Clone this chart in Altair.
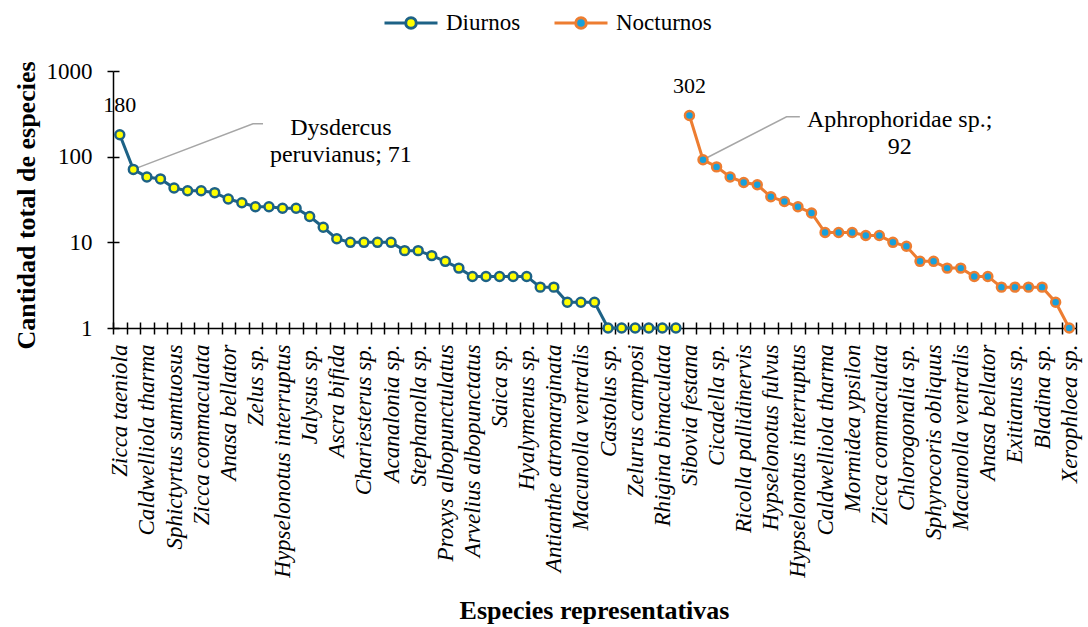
import json
import altair as alt
import pandas as pd

# ---- data -----------------------------------------------------------------
# Species shown on the category axis (every second category carries a name)
especies = [
    "Zicca taeniola", "Caldwelliola tharma", "Sphictyrtus sumtuosus",
    "Zicca commaculata", "Anasa bellator", "Zelus sp.",
    "Hypselonotus interruptus", "Jalysus sp.", "Ascra bifida",
    "Chariesterus sp.", "Acanalonia sp.", "Stephanolla sp.",
    "Proxys albopunctulatus", "Arvelius albopunctatus", "Saica sp.",
    "Hyalymenus sp.", "Antianthe atromarginata", "Macunolla ventralis",
    "Castolus sp.", "Zelurus camposi", "Rhigina bimaculata",
    "Sibovia festana", "Cicadella sp.", "Ricolla pallidinervis",
    "Hypselonotus fulvus", "Hypselonotus interruptus", "Caldwelliola tharma",
    "Mormidea ypsilon", "Zicca commaculata", "Chlorogonalia sp.",
    "Sphyrocoris obliquus", "Macunolla ventralis", "Anasa bellator",
    "Exitianus sp.", "Bladina sp.", "Xerophloea sp.",
]

diurnos = [180, 71, 58, 55, 43, 40, 40, 38, 32, 29,
           26, 26, 25, 25, 20, 15, 11, 10, 10, 10,
           10, 8, 8, 7, 6, 5, 4, 4, 4, 4,
           4, 3, 3, 2, 2, 2, 1, 1, 1, 1,
           1, 1]

nocturnos = [302, 92, 76, 58, 50, 47, 34, 30, 26, 22,
             13, 13, 13, 12, 12, 10, 9, 6, 6, 5,
             5, 4, 4, 3, 3, 3, 3, 2, 1]

series = ["Diurnos", "Nocturnos"]
line_colors = ["#1d6286", "#ed7d31"]
marker_fills = ["#ffff00", "#16a0dc"]

# Callout annotations: anchor point index, elbow and end of the leader, text block
callout_names = ["Dysdercus", "Aphrophoridae"]
callout_point = [1, 43]
callout_elbow_x = [9.82, 49.16]
callout_end_x = [10.56, 50.14]
callout_elbow_y = [242, 292]
callout_text = [["Dysdercus", "peruvianus; 71"], ["Aphrophoridae sp.;", "92"]]
callout_text_x = [16.3, 57.5]
callout_text_y = [217, 270]

# ---- tables ---------------------------------------------------------------
rows = []
for i, v in enumerate(diurnos):
    rows.append({"idx": i, "valor": v, "serie": "Diurnos"})
for i, v in enumerate(nocturnos):
    rows.append({"idx": len(diurnos) + i, "valor": v, "serie": "Nocturnos"})
df = pd.DataFrame(rows)

n = len(diurnos) + len(nocturnos)
firsts = df.groupby("serie", as_index=False).first()

leader_rows = []
for k, name in enumerate(callout_names):
    p = callout_point[k]
    leader_rows += [
        {"grp": name, "o": 0, "x": p, "y": float(df.loc[df.idx == p, "valor"].iloc[0])},
        {"grp": name, "o": 1, "x": callout_elbow_x[k], "y": callout_elbow_y[k]},
        {"grp": name, "o": 2, "x": callout_end_x[k], "y": callout_elbow_y[k]},
    ]
leaders = pd.DataFrame(leader_rows)
callouts = pd.DataFrame({"x": callout_text_x, "y": callout_text_y,
                         "txt": ["\n".join(t) for t in callout_text]})

# ---- scales / axes --------------------------------------------------------
FONT = "Liberation Serif"
x_scale = alt.Scale(domain=[-0.5, n - 0.5], nice=False, zero=False)
y_scale = alt.Scale(type="log", domain=[1, 1000], nice=False)
stroke_scale = alt.Scale(domain=series, range=line_colors)
fill_scale = alt.Scale(domain=series, range=marker_fills)

band_edges = [i - 0.5 for i in range(n + 1)]
label_pos = list(range(0, n, 2))
label_expr = json.dumps(especies) + "[datum.value / 2]"
decades = [1, 10, 100, 1000]

legend_symbol = ("M-1,0L-0.2,0M0.2,0L1,0"
                 "M-0.2,0A0.2,0.2,0,1,1,0.2,0A0.2,0.2,0,1,1,-0.2,0Z")
legend = alt.Legend(
    orient="none", legendX=270, legendY=-76, direction="horizontal",
    title=None, symbolType=legend_symbol, symbolSize=2809,
    symbolStrokeWidth=3, labelFont=FONT, labelFontSize=23, labelColor="black",
    labelOffset=7, columnPadding=27, padding=0, labelLimit=300,
)

common_ax = dict(grid=False, domainColor="black", tickColor="black",
                 domainWidth=1.5, tickWidth=1.5)

# main line layer: outer ticks, domain lines, y labels and both titles
lines = alt.Chart(df).mark_line(strokeWidth=3).encode(
    x=alt.X("idx:Q", scale=x_scale, axis=alt.Axis(
        orient="bottom", values=band_edges, labels=False, tickSize=6,
        title="Especies representativas", titleFont=FONT, titleFontSize=26,
        titleFontWeight="bold", titleColor="black", titleX=481, titleY=282,
        titleBaseline="middle", titleAlign="center", **common_ax)),
    y=alt.Y("valor:Q", scale=y_scale, axis=alt.Axis(
        orient="left", values=decades, format="d", tickSize=6, labelPadding=15,
        labelFont=FONT, labelFontSize=23, labelColor="black",
        title="Cantidad  total  de  especies", titleFont=FONT, titleFontSize=26,
        titleFontWeight="bold", titleColor="black", titleX=-87, titleY=134,
        titleBaseline="middle", titleAlign="center", titleAngle=-90,
        **common_ax)),
    stroke=alt.Stroke("serie:N", scale=stroke_scale, legend=legend),
)

# markers: category names on x, inner half of the y ticks
points = alt.Chart(df).mark_point(
    filled=True, shape="circle", size=80, strokeWidth=2.5, opacity=1
).encode(
    x=alt.X("idx:Q", scale=x_scale, axis=alt.Axis(
        orient="bottom", values=label_pos, labelExpr=label_expr, ticks=False,
        tickSize=0, domain=False, title=None, labelAngle=-90,
        labelAlign="right", labelBaseline="middle", labelFont=FONT,
        labelFontSize=23, labelFontStyle="italic", labelColor="black",
        labelPadding=16, labelOverlap=False, labelFlush=False,
        labelBound=False, labelLimit=400, grid=False)),
    y=alt.Y("valor:Q", scale=y_scale, axis=alt.Axis(
        orient="left", values=decades, labels=False, domain=False,
        tickSize=6, offset=-6, title=None, **common_ax)),
    stroke=alt.Stroke("serie:N", scale=stroke_scale, legend=legend),
    fill=alt.Fill("serie:N", scale=fill_scale, legend=legend),
)

# value labels on the first point of each series; inner half of x ticks
values_txt = alt.Chart(firsts).mark_text(
    font=FONT, fontSize=22, color="black", dy=-30, baseline="middle"
).encode(
    x=alt.X("idx:Q", scale=x_scale, axis=alt.Axis(
        orient="bottom", values=band_edges, labels=False, domain=False,
        tickSize=6, offset=-6, title=None, **common_ax)),
    y=alt.Y("valor:Q", scale=y_scale, axis=None),
    text=alt.Text("valor:Q", format="d"),
)

leader_lines = alt.Chart(leaders).mark_line(
    color="#a6a6a6", strokeWidth=1.5
).encode(
    x=alt.X("x:Q", scale=x_scale, axis=None),
    y=alt.Y("y:Q", scale=y_scale, axis=None),
    detail="grp:N",
    order="o:Q",
)

callout_txt = alt.Chart(callouts).mark_text(
    font=FONT, fontSize=24, color="black", lineBreak="\n", lineHeight=27,
    align="center", baseline="middle"
).encode(
    x=alt.X("x:Q", scale=x_scale, axis=None),
    y=alt.Y("y:Q", scale=y_scale, axis=None),
    text="txt:N",
)

chart = alt.layer(
    lines, leader_lines, points, values_txt, callout_txt
).resolve_axis(
    x="independent", y="independent"
).properties(
    width=963, height=257,
    autosize=alt.AutoSizeParams(type="none"),
    padding={"left": 113, "top": 71, "right": 12, "bottom": 299},
    background="white",
).configure(
    font=FONT
).configure_view(
    stroke=None
).configure_legend(
    labelFont=FONT, labelFontSize=23, labelColor="black"
)

chart.save("out.html", embed_options={"renderer": "svg", "actions": False})
